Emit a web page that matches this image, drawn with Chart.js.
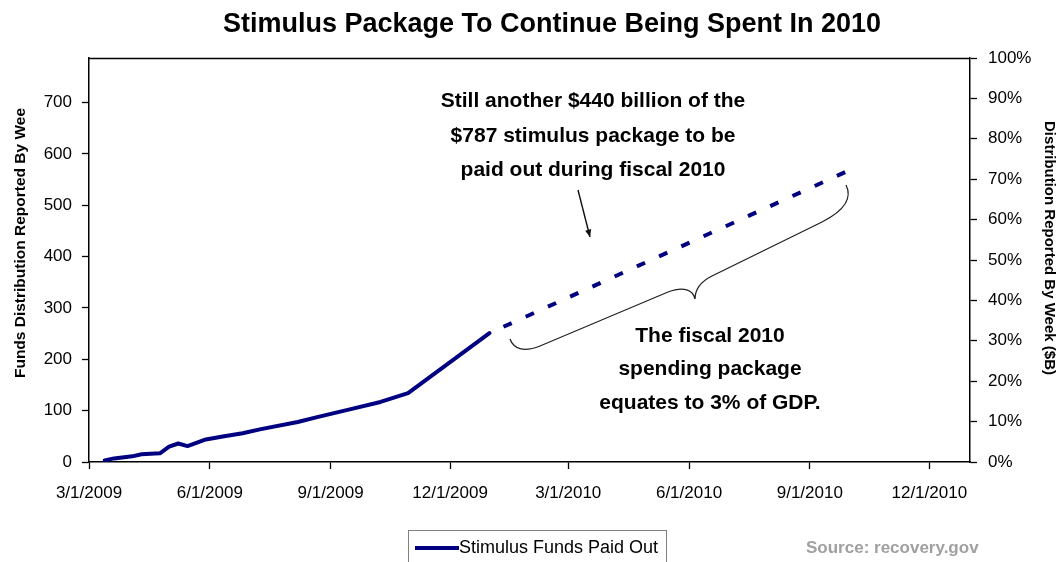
<!DOCTYPE html>
<html><head><meta charset="utf-8">
<script src="https://cdn.jsdelivr.net/npm/chart.js@4.4.1/dist/chart.umd.min.js"></script>
<style>html,body{margin:0;padding:0;background:#fff;}#wrap{width:1060px;height:562px;}</style>
</head><body><div id="wrap"><canvas id="c" width="1060" height="562"></canvas></div>
<script>
const chartTitle = 'Stimulus Package To Continue Being Spent In 2010';
const xTickLabels = ['3/1/2009','6/1/2009','9/1/2009','12/1/2009','3/1/2010','6/1/2010','9/1/2010','12/1/2010'];
const xRange = ['3/1/2009','1/1/2011'];
const leftTicks = [0,100,200,300,400,500,600,700];
const leftMax = 787;
const rightTicks = [0,10,20,30,40,50,60,70,80,90,100];
const fundDates = ['3/13/2009','3/20/2009','4/3/2009','4/10/2009','4/24/2009','5/1/2009','5/8/2009','5/15/2009','5/29/2009','6/12/2009','6/26/2009','7/10/2009','8/7/2009','8/21/2009','9/18/2009','10/9/2009','10/30/2009','12/31/2009'];
const fundValues = [3,7,11,15,17,30,36,31,44,50,56,64,78,87,104,117,134,251];
const projDates = ['12/31/2009','9/30/2010'];
const projValues = [251,567];
const seriesName = 'Stimulus Funds Paid Out';
const leftAxisTitle = 'Funds Distribution Reported By Wee';
const rightAxisTitle = 'Distribution Reported By Week ($B)';
const note1 = ['Still another $440 billion of the','$787 stimulus package to be','paid out during fiscal 2010'];
const note2 = ['The fiscal 2010','spending package','equates to 3% of GDP.'];
const sourceText = 'Source: recovery.gov';

const FONT = '"Liberation Sans", Arial, sans-serif';
const NAVY = '#000080';
function dayNum(s){const [m,d,y]=s.split('/').map(Number);return Date.UTC(y,m-1,d)/864e5;}

const overlay = {
  id:'overlay',
  afterDraw(chart){
    const ctx = chart.ctx, a = chart.chartArea;
    ctx.save();
    // top border
    ctx.strokeStyle='#000'; ctx.lineWidth=1.5;
    ctx.beginPath(); ctx.moveTo(a.left, a.top+0.5); ctx.lineTo(a.right, a.top+0.5); ctx.stroke();
    // axis titles
    ctx.fillStyle='#000'; ctx.font='bold 15.5px '+FONT; ctx.textBaseline='middle'; ctx.textAlign='center';
    ctx.save(); ctx.translate(21,243); ctx.rotate(-Math.PI/2); ctx.fillText(leftAxisTitle,0,0); ctx.restore();
    ctx.font='bold 15px '+FONT;
    ctx.save(); ctx.translate(1049,248); ctx.rotate(Math.PI/2); ctx.fillText(rightAxisTitle,0,0); ctx.restore();
    // notes
    ctx.font='bold 21px '+FONT;
    [101,136,170].forEach((y,i)=>ctx.fillText(note1[i],593,y));
    [336,369,403].forEach((y,i)=>ctx.fillText(note2[i],710,y));
    // arrow
    ctx.strokeStyle='#111'; ctx.lineWidth=1.4;
    const x1=578,y1=190,x2=590,y2=237;
    ctx.beginPath(); ctx.moveTo(x1,y1); ctx.lineTo(x2,y2); ctx.stroke();
    const ang=Math.atan2(y2-y1,x2-x1), L=8, W=0.4;
    ctx.fillStyle='#111'; ctx.beginPath(); ctx.moveTo(x2,y2);
    ctx.lineTo(x2-L*Math.cos(ang-W), y2-L*Math.sin(ang-W));
    ctx.lineTo(x2-L*Math.cos(ang+W), y2-L*Math.sin(ang+W)); ctx.closePath(); ctx.fill();
    // brace
    ctx.strokeStyle='#222'; ctx.lineWidth=1.3;
    ctx.beginPath();
    ctx.moveTo(510,339);
    ctx.bezierCurveTo(514,350,525,352,540,346);
    ctx.lineTo(668,292);
    ctx.bezierCurveTo(684,286,693,290,695,299);
    ctx.moveTo(695,299);
    ctx.bezierCurveTo(695,289,700,282,712,276);
    ctx.lineTo(822,222);
    ctx.bezierCurveTo(846,210,852,197,846,185);
    ctx.stroke();
    // legend
    ctx.strokeStyle='#808080'; ctx.lineWidth=1;
    ctx.strokeRect(408.5,530.5,258,40);
    ctx.strokeStyle=NAVY; ctx.lineWidth=4; ctx.lineCap='butt';
    ctx.beginPath(); ctx.moveTo(415,548); ctx.lineTo(459,548); ctx.stroke();
    ctx.fillStyle='#000'; ctx.font='18px '+FONT; ctx.textAlign='left';
    ctx.fillText(chart.data.datasets[0].label,459,548);
    // source
    ctx.fillStyle='#a0a0a0'; ctx.font='bold 17px '+FONT;
    ctx.fillText(sourceText,806,548);
    ctx.restore();
  }
};

const axisGrid = {drawOnChartArea:false, drawTicks:true, tickLength:7, color:'#000', tickColor:'#000', tickWidth:1.3};
const axisBorder = {display:true, color:'#000', width:1.5};
const tickFont = {family:FONT, size:17};

new Chart(document.getElementById('c'), {
  type:'line',
  data:{datasets:[
    {label:seriesName, data:fundDates.map((d,i)=>({x:dayNum(d),y:fundValues[i]})), borderColor:NAVY, borderWidth:4, pointRadius:0, tension:0, yAxisID:'y', borderJoinStyle:'round', borderCapStyle:'round'},
    {label:'Projected', data:projDates.map((d,i)=>({x:dayNum(d),y:projValues[i]})), borderColor:NAVY, borderWidth:4, pointRadius:0, tension:0, yAxisID:'y', borderDash:[9,15.4], borderDashOffset:9, borderCapStyle:'butt'}
  ]},
  options:{
    responsive:false, animation:false, devicePixelRatio:1,
    layout:{padding:{left:44,right:0,top:0,bottom:0}},
    plugins:{
      legend:{display:false}, tooltip:{enabled:false},
      title:{display:true, text:chartTitle, color:'#000', font:{family:FONT, size:27, weight:'bold'}, padding:{top:8,bottom:17.6}}
    },
    scales:{
      x:{type:'linear', position:'bottom', min:dayNum(xRange[0]), max:dayNum(xRange[1]),
        afterBuildTicks:s=>{s.ticks=xTickLabels.map(l=>({value:dayNum(l)}));},
        ticks:{callback:(v,i)=>xTickLabels[i], font:tickFont, color:'#000', padding:14, maxRotation:0, autoSkip:false},
        grid:axisGrid, border:axisBorder, afterFit:s=>{s.height=100;}},
      y:{type:'linear', position:'left', min:0, max:leftMax,
        afterBuildTicks:s=>{s.ticks=leftTicks.map(v=>({value:v}));},
        ticks:{font:tickFont, color:'#000', padding:10},
        grid:axisGrid, border:axisBorder, afterFit:s=>{s.width=45;}},
      y2:{type:'linear', position:'right', min:0, max:100,
        afterBuildTicks:s=>{s.ticks=rightTicks.map(v=>({value:v}));},
        ticks:{font:tickFont, color:'#000', padding:11, callback:v=>v+'%'},
        grid:axisGrid, border:axisBorder, afterFit:s=>{s.width=90;}}
    }
  },
  plugins:[overlay]
});
</script></body></html>
